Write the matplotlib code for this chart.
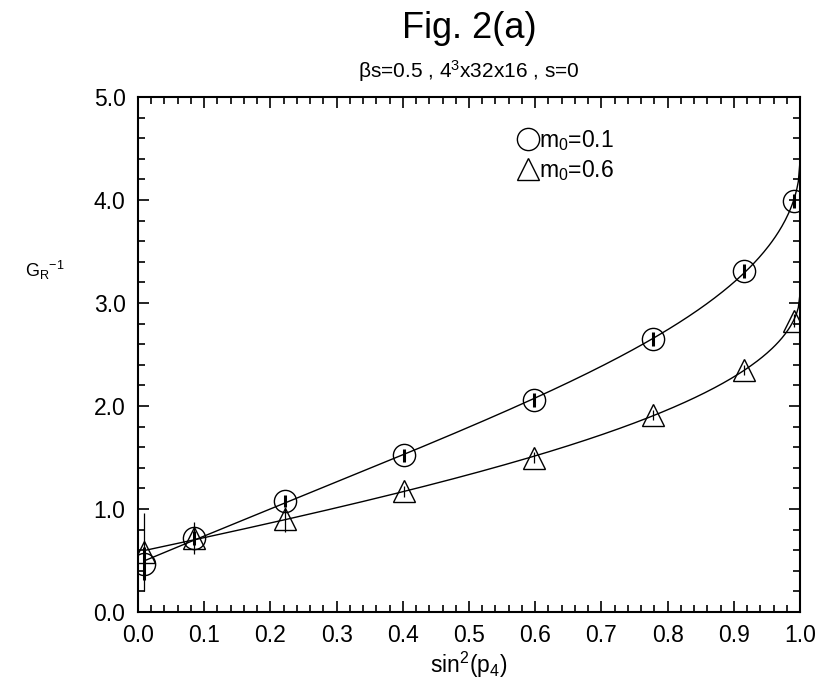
import matplotlib
matplotlib.use("Agg")
import matplotlib.pyplot as plt
import numpy as np
from matplotlib.ticker import MultipleLocator, FormatStrFormatter

plt.rcParams['font.family'] = ['Liberation Sans', 'DejaVu Sans']
plt.rcParams['mathtext.fontset'] = 'custom'
plt.rcParams['mathtext.rm'] = 'Liberation Sans'
plt.rcParams['mathtext.it'] = 'Liberation Sans'

# sin^2(p4) values
sin2_p4 = [0.0096, 0.0843, 0.2222, 0.4025, 0.5975, 0.7778, 0.9157, 0.9904]

# m0 = 0.1 (circles)
g_m01 = [0.47, 0.72, 1.08, 1.52, 2.06, 2.65, 3.31, 3.99]
err_m01 = [0.16, 0.07, 0.06, 0.06, 0.07, 0.07, 0.07, 0.07]

# m0 = 0.6 (triangles)
g_m06 = [0.58, 0.72, 0.90, 1.17, 1.50, 1.91, 2.35, 2.83]
err_m06 = [0.38, 0.155, 0.12, 0.05, 0.05, 0.05, 0.05, 0.06]


def fit_curve(x, y):
    # least squares fit with a sqrt(1-x) term for the steep end near x=1
    x = np.asarray(x)
    basis = lambda t: np.column_stack([np.ones_like(t), t, t**2, np.sqrt(1 - t)])
    coef, *_ = np.linalg.lstsq(basis(x), np.asarray(y), rcond=None)
    xs = np.linspace(x[0], 1.0, 400)
    return xs, basis(xs) @ coef


fig = plt.figure(figsize=(8.21, 6.87), dpi=100)
ax = fig.add_axes([138 / 821, 1 - 612 / 687, (800 - 138) / 821, (612 - 97) / 687])

for y, err, lw in [(g_m01, err_m01, 2.2), (g_m06, err_m06, 0.9)]:
    ax.errorbar(sin2_p4, y, yerr=err, fmt='none', ecolor='black', elinewidth=lw, capsize=0)

xs, ys = fit_curve(sin2_p4, g_m01)
ax.plot(xs, ys, color='black', lw=1.0)
xs, ys = fit_curve(sin2_p4, g_m06)
ax.plot(xs, ys, color='black', lw=1.0)

ax.plot(sin2_p4, g_m01, 'o', ms=16, mfc='none', mec='black', mew=1.0, label=r'm$_0$=0.1')
ax.plot(sin2_p4, g_m06, '^', ms=16, mfc='none', mec='black', mew=1.0, label=r'm$_0$=0.6')

ax.set_xlim(0, 1.0)
ax.set_ylim(0, 5.0)
ax.xaxis.set_major_locator(MultipleLocator(0.1))
ax.xaxis.set_minor_locator(MultipleLocator(0.02))
ax.yaxis.set_major_locator(MultipleLocator(1.0))
ax.yaxis.set_minor_locator(MultipleLocator(0.2))
ax.xaxis.set_major_formatter(FormatStrFormatter('%.1f'))
ax.yaxis.set_major_formatter(FormatStrFormatter('%.1f'))
ax.tick_params(which='both', direction='in', top=True, right=True, labelsize=16.5, width=1.2)
ax.tick_params(which='major', length=8, pad=9)
ax.tick_params(which='minor', length=5)
for s in ax.spines.values():
    s.set_linewidth(1.5)

ax.set_xlabel(r'sin$^2$(p$_4$)', fontsize=16.5, labelpad=2)
fig.text(0.055, 1 - 270 / 687, r'G$_R$$^{-1}$', fontsize=13, ha='center', va='center')
fig.text(469 / 821, 1 - 28 / 687, 'Fig. 2(a)', fontsize=26, ha='center', va='center')
fig.text(469 / 821, 1 - 71 / 687, r'βs=0.5 , 4$^3$x32x16 , s=0', fontsize=15, ha='center', va='center')

ax.legend(loc='upper left', bbox_to_anchor=(0.561, 0.958), frameon=False, fontsize=16.5,
          handlelength=0.8, handletextpad=0.1, labelspacing=0.25, borderaxespad=0)

fig.savefig('out.png', dpi=100)
